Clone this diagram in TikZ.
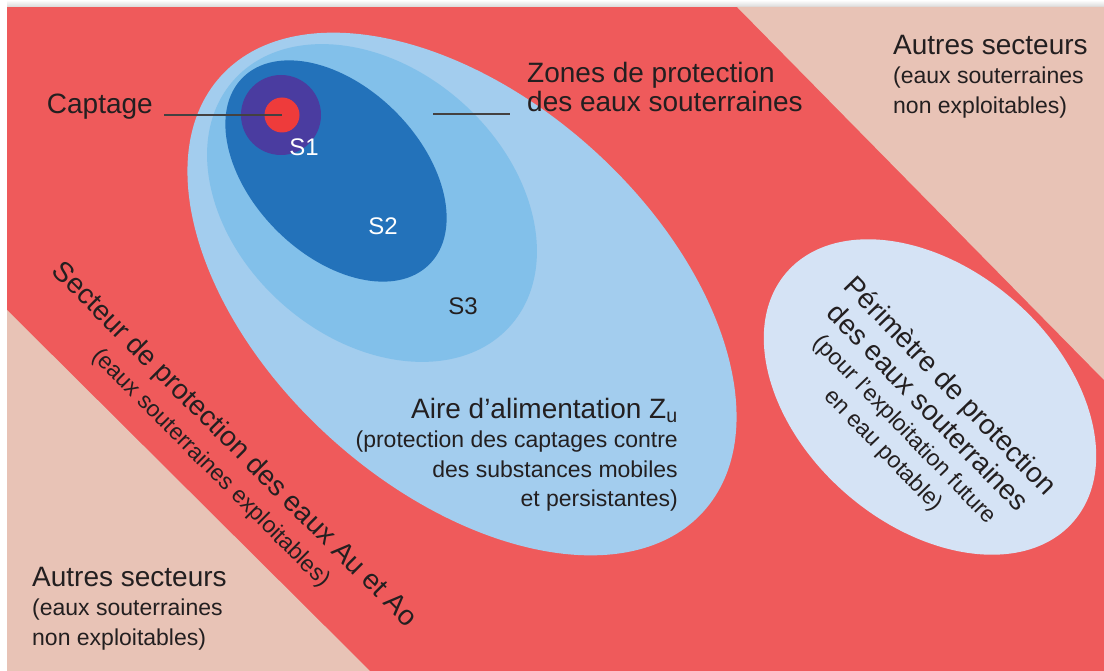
\documentclass[tikz,border=0pt]{standalone}
\usepackage{fontspec}
\setmainfont{Liberation Sans}
\usetikzlibrary{positioning,shapes.geometric}

\definecolor{bandred}{HTML}{EF5A5B}
\definecolor{beige}{HTML}{E8C3B6}
\definecolor{aireblue}{HTML}{A3CDEE}
\definecolor{sthree}{HTML}{82C0EA}
\definecolor{stwo}{HTML}{2372BA}
\definecolor{sone}{HTML}{4A3CA0}
\definecolor{dotred}{HTML}{EE3B3B}
\definecolor{perim}{HTML}{D5E3F5}
\definecolor{ink}{HTML}{231F20}
\newcommand\subtxt{\fontsize{23}{27}\selectfont}

\begin{document}
\begin{tikzpicture}[x=1pt, y=-1pt, zone/.style={ellipse, inner sep=0pt, draw=none}, t/.style={text=ink, font=\fontsize{28}{29.5}\selectfont, inner sep=0pt}, lbl/.style={font=\fontsize{24}{26}\selectfont, inner sep=0pt}, lead/.style={draw=ink!85, line width=1.3pt}]
		\useasboundingbox (0,0) rectangle (1104,671);
		\fill[white] (0,0) rectangle (1104,671);
		\shade[top color=white, bottom color=gray!30] (7,0) rectangle (1104,7);
		\fill[bandred] (7,7) rectangle (1104,671);
		\fill[beige] (737,7) -- (1104,7) -- (1104,380) -- cycle;
		\fill[beige] (7,310) -- (370,671) -- (7,671) -- cycle;

		\node[zone, fill=aireblue, minimum width=650pt, minimum height=390pt, rotate=-42] (aire) at (462,294) {};
		\node[zone, fill=sthree, minimum width=370pt, minimum height=270pt, rotate=-41.5] (s3) at (372,203) {};
		\node[zone, fill=stwo, minimum width=264pt, minimum height=168pt, rotate=-45] (s2) at (336,171) {};
		\node[circle, fill=sone, minimum size=80pt, inner sep=0pt] (s1) at (281,115) {};
		\node[circle, fill=dotred, minimum size=35pt, inner sep=0pt] (dot) at (282,115) {};
		\node[zone, fill=perim, minimum width=380pt, minimum height=256pt, rotate=-41] (perim) at (930,397) {};

		\node[lbl, white] (s1_label) at (304,147) {S1};
		\node[lbl, white] (s2_label) at (383,226) {S2};
		\node[lbl, text=ink] (s3_label) at (463,306) {S3};

		\node[t, anchor=north east] (captage) at (153,94) {Captage};
		\draw[lead] ([xshift=11pt]dot -| captage.east) -- (dot.center);
		\node[t, align=left, anchor=north west] (zones) at (527,62) {Zones de protection\\des eaux souterraines};
		\coordinate (zpt) at (433,114);
		\draw[lead] (zpt) -- ([xshift=-17pt]zones.west |- zpt);

		\node[t, align=left, anchor=north west] (autres_ne) at (893,35) {Autres secteurs\\\subtxt (eaux souterraines\\\subtxt non exploitables)};
		\node[t, align=left, anchor=north west] (autres_sw) at (32,567) {Autres secteurs\\\subtxt (eaux souterraines\\\subtxt non exploitables)};
		\node[t, align=right, anchor=north east] (aire_label) at (678,398) {Aire d’alimentation Z\textsubscript{u}\\\subtxt (protection des captages contre\\\subtxt des substances mobiles\\\subtxt et persistantes)};

		\node[t, align=center, rotate=-45] (secteur) at (223,456) {Secteur de protection des eaux Au et Ao\\[2pt]\subtxt (eaux souterraines exploitables)};
		\node[t, align=center, rotate=-46] (perim_label) at (917,418) {Périmètre de protection\\[2pt]des eaux souterraines\\\subtxt (pour l'exploitation future\\\subtxt en eau potable)};
	\end{tikzpicture}
\end{document}
